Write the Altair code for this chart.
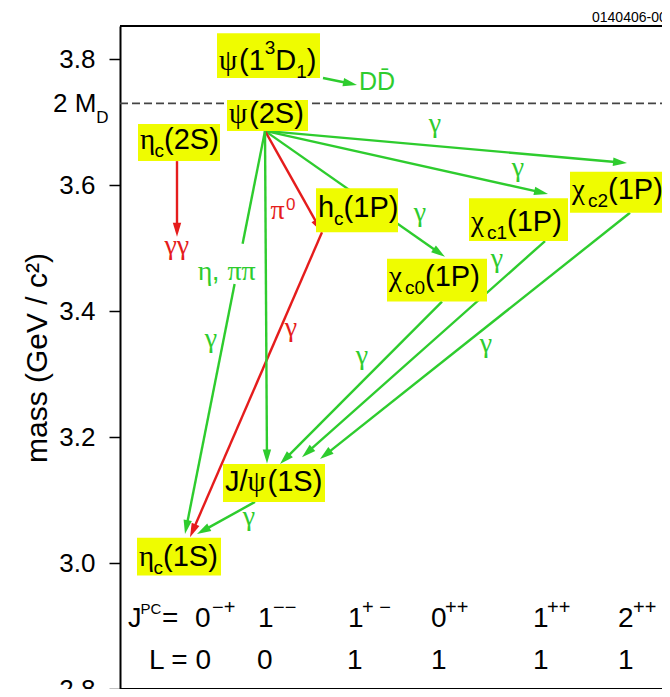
import math
import altair as alt
import pandas as pd

# ---------------- data ----------------
# charmonium states; mass (GeV/c^2) sits at the bottom edge of each yellow label
state_mass = [2.980, 3.097, 3.415, 3.511, 3.525, 3.556, 3.638, 3.686, 3.770]
state_label = [
    [("η", "n"), ("c", "sub"), ("(1S)", "n")],
    [("J/ψ(1S)", "n")],
    [("χ", "n"), ("c0", "sub"), ("(1P)", "n")],
    [("χ", "n"), ("c1", "sub"), ("(1P)", "n")],
    [("h", "n"), ("c", "sub"), ("(1P)", "n")],
    [("χ", "n"), ("c2", "sub"), ("(1P)", "n")],
    [("η", "n"), ("c", "sub"), ("(2S)", "n")],
    [("ψ(2S)", "n")],
    [("ψ(1", "n"), ("3", "sup"), ("D", "n"), ("1", "sub"), (")", "n")],
]
state_x0 = [17, 103, 267, 349, 196, 450, 18, 107, 97]
state_x1 = [101, 205, 367, 448, 278, 570, 100, 188, 200]
state_h = [0.060, 0.060, 0.068, 0.068, 0.070, 0.065, 0.059, 0.049, 0.071]
state_raise = [0.016, 0.017, 0.025, 0.016, 0.025, 0.022, 0.019, 0.013, 0.013]

# transitions: start (x, mass) -> end (x, mass)
tr_x0 = [203, 57, 145, 145, 145, 145, 202, 145, 145, 322, 425, 510, 135]
tr_m0 = [3.770, 3.638, 3.686, 3.686, 3.686, 3.686, 3.525, 3.686, 3.686, 3.415, 3.511, 3.556, 3.097]
tr_x1 = [237, 57, 507, 428, 325, 202, 70, 65, 147, 160, 182, 200, 77]
tr_m1 = [3.759, 3.518, 3.635, 3.586, 3.486, 3.525, 3.041, 3.046, 3.158, 3.157, 3.168, 3.165, 3.046]
tr_col = ["g", "r", "g", "g", "g", "r", "r", "g", "g", "g", "g", "g", "g"]
tr_gap = [None, None, None, None, None, None, None, (0.28, 0.38), None, None, None, None, None]

# transition labels: pieces, centre x, centre mass, colour, size
tr_label = [
    ([("γ", "n")], 315, 3.691, "g", 28),
    ([("γ", "n")], 398, 3.621, "g", 28),
    ([("γ", "n")], 300, 3.550, "g", 28),
    ([("π", "n"), ("0", "sup")], 163, 3.553, "r", 28),
    ([("γ", "n")], 171, 3.366, "r", 28),
    ([("γ", "n")], 91, 3.350, "g", 28),
    ([("η, ππ", "n")], 108, 3.455, "g", 28),
    ([("γγ", "n")], 57, 3.497, "r", 28),
    ([("γ", "n")], 242, 3.323, "g", 28),
    ([("γ", "n")], 377, 3.476, "g", 28),
    ([("γ", "n")], 366, 3.342, "g", 28),
    ([("γ", "n")], 129, 3.066, "g", 28),
    ([("DD\u0304", "n")], 257, 3.757, "g", 25),
]

threshold_2MD = 3.7296

# quantum-number rows: (text, kind, left x, size)
jpc_row = [("J", "n", 8, 27), ("PC", "sup", 20.5, 15), ("=", "n", 42, 28), ("0", "n", 75, 28),
           ("−+", "sup", 92, 20), ("1", "n", 138, 28), ("−−", "sup", 153, 20),
           ("1", "n", 228, 28), ("+ −", "sup", 242, 20), ("0", "n", 311, 28),
           ("++", "sup", 325, 20), ("1", "n", 413, 28), ("++", "sup", 427, 20),
           ("2", "n", 498, 28), ("++", "sup", 513, 20)]
jpc_base = 2.8983
l_row = [("L = 0", "n", 29), ("0", "n", 137), ("1", "n", 227), ("1", "n", 311), ("1", "n", 413), ("1", "n", 498)]
l_base = 2.8317

y_ticks = [2.8, 3.0, 3.2, 3.4, 3.6, 3.8]

# ---------------- layout helpers ----------------
PLOT_W, PLOT_H = 542, 663
Y_MIN, Y_MAX = 2.8, 3.8525
PX = PLOT_H / (Y_MAX - Y_MIN)          # pixels per GeV
COL = {"g": "#2ecc2e", "r": "#e51c1c", "k": "black"}
YELLOW = "#effc00"
SANS, SERIF = "Liberation Sans", "Liberation Serif"

W_SANS = {c: 0.556 for c in "0123456789"}
W_SANS.update({"(": 0.333, ")": 0.333, "/": 0.278, "S": 0.667, "P": 0.667, "D": 0.722,
               "J": 0.5, "h": 0.556, "c": 0.5, "C": 0.722, "L": 0.556, "=": 0.584,
               "+": 0.584, "−": 0.584, " ": 0.278, "M": 0.833, ",": 0.278, "-": 0.333,
               "\u0304": 0.0})
W_SERIF = {"ψ": 0.69, "η": 0.5, "χ": 0.55, "γ": 0.45, "π": 0.55}
GREEK = set("ψηχγπ")


def segments(s):
    out = []
    for ch in s:
        f = SERIF if ch in GREEK else SANS
        if out and out[-1][1] == f:
            out[-1][0] += ch
        else:
            out.append([ch, f])
    return out


def width(s, font, size):
    tbl = W_SERIF if font == SERIF else W_SANS
    return sum(tbl.get(ch, 0.556) for ch in s) * size


def run_width(pieces, size, small):
    w = 0
    for txt, kind in pieces:
        sz = size if kind == "n" else small
        for seg, font in segments(txt):
            w += width(seg, font, sz)
    return w


text_rows = []


def add_run(pieces, x, base, size, small, color="k", sub_px=8, sup_px=16):
    for txt, kind in pieces:
        sz = size if kind == "n" else small
        m = base
        if kind == "sub":
            m -= sub_px / PX
        elif kind == "sup":
            m += sup_px / PX
        for seg, font in segments(txt):
            text_rows.append(dict(x=x, m=m, t=seg, size=sz, color=COL[color], font=font))
            x += width(seg, font, sz)


# state labels
boxes = []
for lab, m, x0, x1, h, r in zip(state_label, state_mass, state_x0, state_x1, state_h, state_raise):
    boxes.append(dict(x=x0, x2=x1, m=m, m2=m + h))
    add_run(lab, x0 + 2, m + r, 29, 19)

# transition labels (centred)
for pieces, xc, mc, col, size in tr_label:
    w = run_width(pieces, size, 17)
    add_run(pieces, xc - w / 2, mc - 4 / PX, size, 17, col, sup_px=9)

# quantum numbers
for txt, kind, x, sz in jpc_row:
    add_run([(txt, kind)], x, jpc_base, sz, sz, sup_px=13)
for txt, kind, x in l_row:
    add_run([(txt, kind)], x, l_base, 28, 20)

# threshold label and figure id
add_run([("2 M", "n"), ("D", "sub")], -67, 3.716, 26, 17, sub_px=11)
add_run([("0140406-002", "n")], 472, 3.8588, 14, 10)

# lines and arrow heads
lines, heads = [], []
for x0, m0, x1, m1, c, gap in zip(tr_x0, tr_m0, tr_x1, tr_m1, tr_col, tr_gap):
    dxp, dyp = (x1 - x0), -(m1 - m0) * PX
    L = math.hypot(dxp, dyp)
    short = 6.0 / L
    xe, me = x1 - (x1 - x0) * short, m1 - (m1 - m0) * short
    if gap:
        a, b = gap
        lines.append(dict(x=x0, m=m0, x2=x0 + (x1 - x0) * a, m2=m0 + (m1 - m0) * a, color=COL[c]))
        lines.append(dict(x=x0 + (x1 - x0) * b, m=m0 + (m1 - m0) * b, x2=xe, m2=me, color=COL[c]))
    else:
        lines.append(dict(x=x0, m=m0, x2=xe, m2=me, color=COL[c]))
    ang = math.degrees(math.atan2(dxp, -dyp)) % 360
    heads.append(dict(x=x1, m=m1, angle=ang, color=COL[c]))

lines_df = pd.DataFrame(lines)
heads_df = pd.DataFrame(heads)
boxes_df = pd.DataFrame(boxes)
text_df = pd.DataFrame(text_rows)
thr_df = pd.DataFrame([dict(x=0, x2=PLOT_W, m=threshold_2MD)])
frame_df = pd.DataFrame([dict(x=0, x2=PLOT_W, m=Y_MIN), dict(x=0, x2=PLOT_W, m=Y_MAX)])

# ---------------- chart ----------------
xs = alt.Scale(domain=[0, PLOT_W], nice=False, zero=False)
ys = alt.Scale(domain=[Y_MIN, Y_MAX], nice=False, zero=False)
yaxis = alt.Axis(values=y_ticks, format=".1f", title="mass (GeV / c²)", grid=False,
                 labelFont=SANS, labelFontSize=26, labelColor="black", labelPadding=14,
                 titleFont=SANS, titleFontSize=30, titleFontWeight="normal", titleColor="black",
                 titlePadding=6, tickSize=11, tickWidth=1.5, tickColor="black",
                 domainWidth=2, domainColor="black")
X = alt.X("x:Q", scale=xs, axis=None)
Y = alt.Y("m:Q", scale=ys, axis=yaxis)
X2 = alt.X2("x2:Q")
Y2 = alt.Y2("m2:Q")
NC = alt.Color("color:N", scale=None)

thr = alt.Chart(thr_df).mark_rule(color="#444444", strokeWidth=1.6, strokeDash=[8, 4]).encode(x=X, x2=X2, y=Y)
ln = alt.Chart(lines_df).mark_rule(strokeWidth=2.4).encode(x=X, x2=X2, y=Y, y2=Y2, color=NC)
hd = alt.Chart(heads_df).mark_point(shape="M0,0L-0.6,2L0.6,2Z", filled=True, size=196, opacity=1,
                                    strokeWidth=0).encode(x=X, y=Y, angle=alt.Angle("angle:Q", scale=None), color=NC)
bx = alt.Chart(boxes_df).mark_rect(color=YELLOW).encode(x=X, x2=X2, y=Y, y2=Y2)
tx_sans = alt.Chart(text_df[text_df.font == SANS]).mark_text(font=SANS, align="left", baseline="alphabetic").encode(
    x=X, y=Y, text="t:N", size=alt.Size("size:Q", scale=None), color=NC)
tx_serif = alt.Chart(text_df[text_df.font == SERIF]).mark_text(font=SERIF, align="left", baseline="alphabetic").encode(
    x=X, y=Y, text="t:N", size=alt.Size("size:Q", scale=None), color=NC)
fr = alt.Chart(frame_df).mark_rule(color="black", strokeWidth=2).encode(x=X, x2=X2, y=Y)

chart = alt.layer(thr, ln, hd, bx, tx_sans, tx_serif, fr).properties(
    width=PLOT_W, height=PLOT_H,
    autosize=alt.AutoSizeParams(type="none"),
    padding={"left": 112, "top": 18, "right": 0, "bottom": 0},
    background="white",
).configure_view(stroke=None)

chart.save("out.html", embed_options={"renderer": "svg", "actions": False})
